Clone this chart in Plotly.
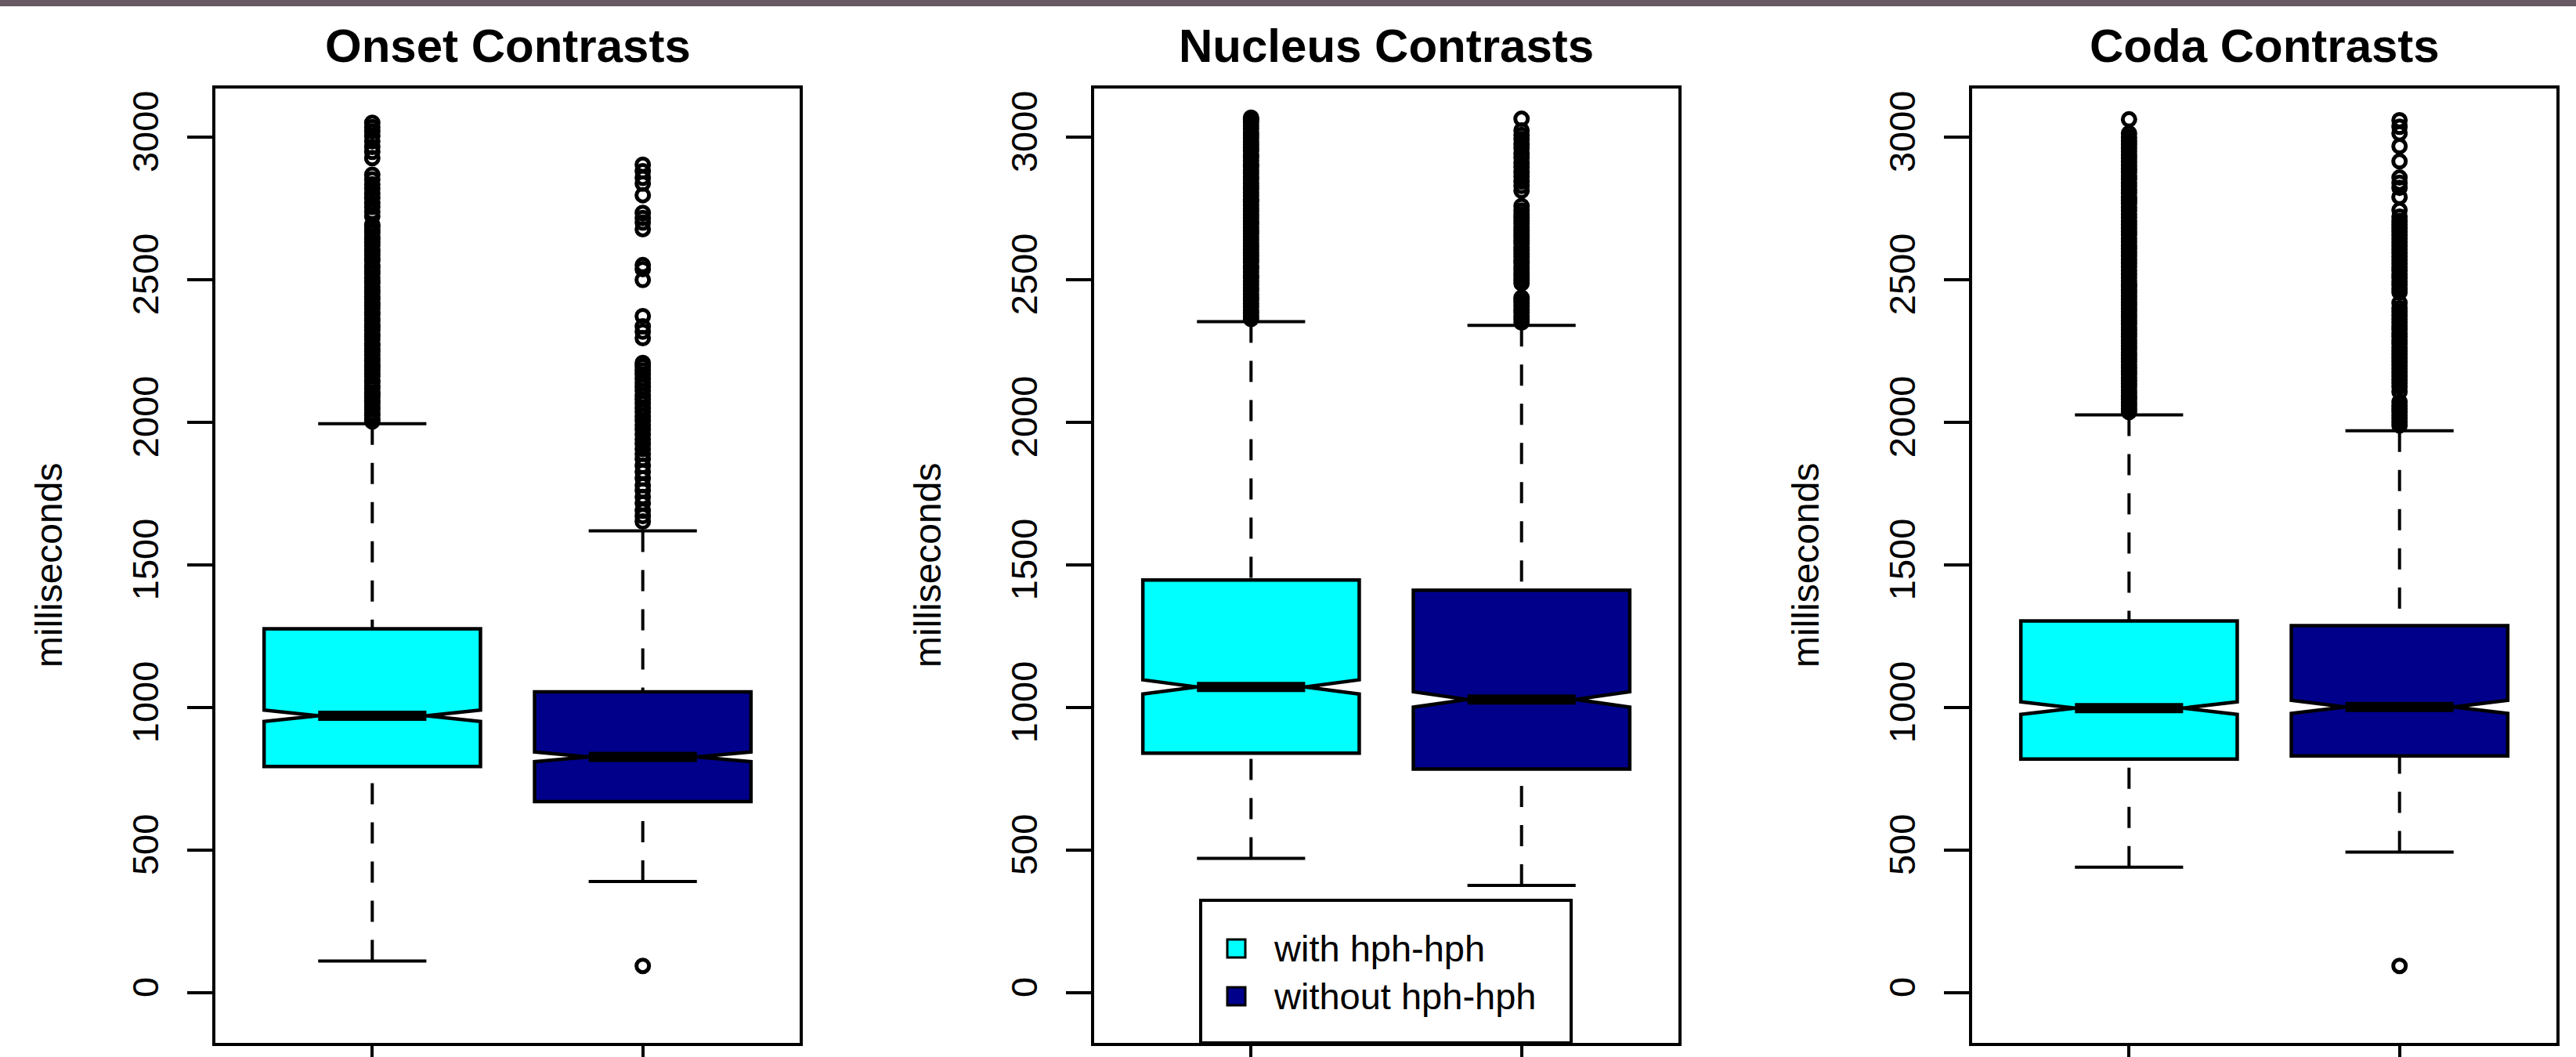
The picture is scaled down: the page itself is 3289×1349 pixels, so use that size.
import plotly.graph_objects as go

W, H = 3289, 1349

# ---------------- data ----------------
panels = ["Onset Contrasts", "Nucleus Contrasts", "Coda Contrasts"]
groups = ["with hph-hph", "without hph-hph"]
colors = ["#00FFFF", "#00008B"]
positions = [1, 2]

# per panel: [with hph-hph, without hph-hph]
q1 = [[793, 670], [840, 784], [819, 830]]
median = [[971, 827], [1072, 1028], [998, 1002]]
q3 = [[1276, 1055], [1447, 1411], [1303, 1287]]
notch_half = [[20, 17], [25, 27], [22, 23]]
whisker_low = [[111, 390], [471, 376], [440, 493]]
whisker_high = [[1995, 1619], [2353, 2340], [2026, 1970]]

onset_with_out = [2003, 2012, 2024, 2031, 2045, 2053, 2066, 2074, 2088, 2097, 2105, 2119,
                  2128, 2140, 2147, 2161, 2170, 2182, 2193, 2201, 2215, 2224, 2236, 2248,
                  2257, 2269, 2276, 2290, 2301, 2309, 2322, 2333, 2341, 2356, 2364, 2377,
                  2386, 2398, 2410, 2419, 2431, 2440, 2455, 2463, 2474, 2488, 2496, 2507,
                  2521, 2530, 2543, 2551, 2566, 2574, 2587, 2598, 2606, 2620, 2631, 2642,
                  2650, 2664, 2673, 2686, 2692, 2722, 2738, 2755, 2769, 2788, 2802, 2820,
                  2834, 2851, 2868, 2926, 2948, 2965, 2985, 3003, 3020, 3035, 3050]
onset_without_out = [94, 1652, 1671, 1690, 1716, 1738, 1761, 1779, 1803, 1826, 1847, 1871,
                     1889, 1906, 1924, 1941, 1958, 1975, 1990, 2006, 2021, 2037, 2050, 2066,
                     2080, 2095, 2110, 2124, 2139, 2152, 2168, 2182, 2196, 2208, 2295, 2318,
                     2336, 2372, 2499, 2537, 2551, 2677, 2700, 2716, 2734, 2796, 2837, 2857,
                     2880, 2903]
nucleus_with_out = [2362, 2371, 2383, 2392, 2405, 2416, 2428, 2437, 2449, 2461, 2470, 2483,
                    2494, 2506, 2515, 2527, 2539, 2548, 2561, 2572, 2584, 2593, 2605, 2617,
                    2626, 2639, 2650, 2662, 2671, 2683, 2695, 2704, 2717, 2728, 2740, 2749,
                    2761, 2773, 2782, 2795, 2806, 2818, 2827, 2839, 2851, 2860, 2873, 2884,
                    2896, 2905, 2917, 2929, 2938, 2951, 2962, 2974, 2983, 2995, 3007, 3016,
                    3029, 3040, 3052, 3061, 3068]
nucleus_without_out = [2350, 2362, 2372, 2385, 2395, 2408, 2418, 2429, 2437, 2487, 2500, 2512,
                       2522, 2535, 2545, 2558, 2568, 2581, 2591, 2604, 2614, 2627, 2637, 2650,
                       2660, 2673, 2683, 2696, 2706, 2719, 2729, 2742, 2758, 2812, 2829, 2844,
                       2862, 2877, 2895, 2909, 2928, 2942, 2961, 2975, 2993, 3007, 3023, 3064]
coda_with_out = [2036, 2047, 2059, 2068, 2080, 2091, 2103, 2112, 2124, 2135, 2147, 2156,
                 2168, 2179, 2191, 2200, 2212, 2223, 2235, 2244, 2256, 2267, 2279, 2288,
                 2300, 2311, 2323, 2332, 2344, 2355, 2367, 2376, 2388, 2399, 2411, 2420,
                 2432, 2443, 2455, 2464, 2476, 2483, 2494, 2507, 2519, 2532, 2546, 2558,
                 2571, 2583, 2596, 2608, 2619, 2633, 2644, 2657, 2668, 2681, 2693, 2705,
                 2718, 2729, 2742, 2754, 2767, 2778, 2790, 2803, 2815, 2828, 2839, 2852,
                 2864, 2877, 2888, 2901, 2913, 2926, 2937, 2950, 2962, 2975, 2986, 2999,
                 3013, 3062]
coda_without_out = [94, 1989, 2001, 2013, 2024, 2036, 2047, 2059, 2071, 2107, 2125, 2137,
                    2150, 2162, 2175, 2187, 2200, 2212, 2225, 2237, 2250, 2262, 2275, 2287,
                    2300, 2312, 2325, 2337, 2350, 2362, 2375, 2387, 2400, 2418, 2456, 2468,
                    2481, 2493, 2506, 2518, 2531, 2543, 2556, 2568, 2581, 2593, 2606, 2618,
                    2631, 2643, 2656, 2668, 2681, 2693, 2706, 2721, 2744, 2790, 2822, 2840,
                    2858, 2915, 2968, 3013, 3036, 3059]
outliers = [[onset_with_out, onset_without_out],
            [nucleus_with_out, nucleus_without_out],
            [coda_with_out, coda_without_out]]

y_ticks = [0, 500, 1000, 1500, 2000, 2500, 3000]
y_title = "milliseconds"

# ---------------- layout geometry (pixels) ----------------
panel_px = [(275, 1021), (1397, 2143), (2518, 3264)]
plot_top_px, plot_bot_px = 113, 1331
FONT = "Liberation Sans, Arial, Helvetica, sans-serif"
LW = 4
BOX_LW = 4.5


def px_x(p):
    return p / W


def px_y(p):
    return 1 - p / H


fig = go.Figure()

for i in range(3):
    sfx = "" if i == 0 else str(i + 1)
    xa, ya = "x" + sfx, "y" + sfx
    for j in range(2):
        pos = positions[j]
        # dashed whiskers (pattern starts at the whisker end, like R)
        for wv, qv in ((whisker_low[i][j], q1[i][j]), (whisker_high[i][j], q3[i][j])):
            fig.add_trace(go.Scatter(x=[pos, pos], y=[wv, qv], mode="lines",
                                     line=dict(color="black", width=LW, dash="27px,23px"),
                                     xaxis=xa, yaxis=ya, showlegend=False, hoverinfo="skip"))
            fig.add_trace(go.Scatter(x=[pos - 0.2, pos + 0.2], y=[wv, wv], mode="lines",
                                     line=dict(color="black", width=LW),
                                     xaxis=xa, yaxis=ya, showlegend=False, hoverinfo="skip"))
    for j in range(2):
        pos = positions[j]
        fig.add_trace(go.Box(x=[pos], q1=[q1[i][j]], median=[median[i][j]], q3=[q3[i][j]],
                             lowerfence=[q1[i][j]], upperfence=[q3[i][j]],
                             notchspan=[notch_half[i][j]], notched=True, notchwidth=0.25,
                             width=0.8, whiskerwidth=0, boxpoints=False,
                             fillcolor=colors[j], line=dict(color="black", width=BOX_LW),
                             name=groups[j], xaxis=xa, yaxis=ya, showlegend=False,
                             hoverinfo="skip"))
        fig.add_trace(go.Scatter(x=[pos - 0.2, pos + 0.2], y=[median[i][j]] * 2, mode="lines",
                                 line=dict(color="black", width=13),
                                 xaxis=xa, yaxis=ya, showlegend=False, hoverinfo="skip"))
    for j in range(2):
        pos = positions[j]
        pts = outliers[i][j]
        fig.add_trace(go.Scatter(x=[pos] * len(pts), y=pts, mode="markers",
                                 marker=dict(symbol="circle-open", size=16, color="black",
                                             line=dict(width=5, color="black")),
                                 xaxis=xa, yaxis=ya, showlegend=False, hoverinfo="skip"))

axis_common = dict(showline=True, mirror=True, linewidth=LW, linecolor="black",
                   showgrid=False, zeroline=False, ticks="outside", tickwidth=LW,
                   ticklen=32, tickcolor="black", automargin=False)
layout = dict(width=W, height=H, margin=dict(l=0, r=0, t=0, b=0, autoexpand=False),
              paper_bgcolor="white", plot_bgcolor="white", boxmode="overlay",
              font=dict(family=FONT, color="black"))
annotations = []
for i in range(3):
    sfx = "" if i == 0 else str(i + 1)
    x0, x1 = panel_px[i]
    layout["xaxis" + sfx] = dict(domain=[px_x(x0), px_x(x1)], range=[0.42, 2.58],
                                 tickvals=positions, showticklabels=False,
                                 anchor="y" + sfx, **axis_common)
    layout["yaxis" + sfx] = dict(domain=[px_y(plot_bot_px), px_y(plot_top_px)],
                                 range=[-176, 3170], tickvals=y_ticks,
                                 ticktext=[str(v) for v in y_ticks], tickangle=-90,
                                 ticklabelposition="outside", ticklabelstandoff=18,
                                 tickfont=dict(size=47, family=FONT, color="black"),
                                 anchor="x" + sfx, **axis_common)
    annotations.append(dict(text="<b>" + panels[i] + "</b>", x=px_x((x0 + x1) / 2),
                            y=px_y(58), xref="paper", yref="paper", showarrow=False,
                            xanchor="center", yanchor="middle",
                            font=dict(size=60, family=FONT, color="black")))
    annotations.append(dict(text=y_title, x=px_x(x0 - 212), y=px_y((plot_top_px + plot_bot_px) / 2),
                            xref="paper", yref="paper", showarrow=False, textangle=-90,
                            xanchor="center", yanchor="middle",
                            font=dict(size=48, family=FONT, color="black")))

# legend (bottom of the middle panel)
shapes = [dict(type="rect", xref="paper", yref="paper", x0=0, x1=1, y0=px_y(8), y1=1,
               fillcolor="#675A62", line=dict(width=0), layer="above"),
          dict(type="rect", xref="paper", yref="paper", x0=px_x(1533), x1=px_x(2006),
               y0=px_y(plot_bot_px), y1=px_y(1149), fillcolor="white",
               line=dict(color="black", width=LW), layer="above")]
for j, (yt, yb) in enumerate([(1199, 1222), (1260, 1283)]):
    shapes.append(dict(type="rect", xref="paper", yref="paper", x0=px_x(1567), x1=px_x(1590),
                       y0=px_y(yb), y1=px_y(yt), fillcolor=colors[j],
                       line=dict(color="black", width=3), layer="above"))
    annotations.append(dict(text=groups[j], x=px_x(1624), y=px_y((yt + yb) / 2),
                            xref="paper", yref="paper", showarrow=False,
                            xanchor="left", yanchor="middle",
                            font=dict(size=47, family=FONT, color="black")))

layout["annotations"] = annotations
layout["shapes"] = shapes
fig.update_layout(**layout)
fig.write_html("out.html",
               config={"displayModeBar": False, "staticPlot": True},
               post_script="document.body.style.margin='0px';"
                           "document.body.style.overflow='hidden';")
